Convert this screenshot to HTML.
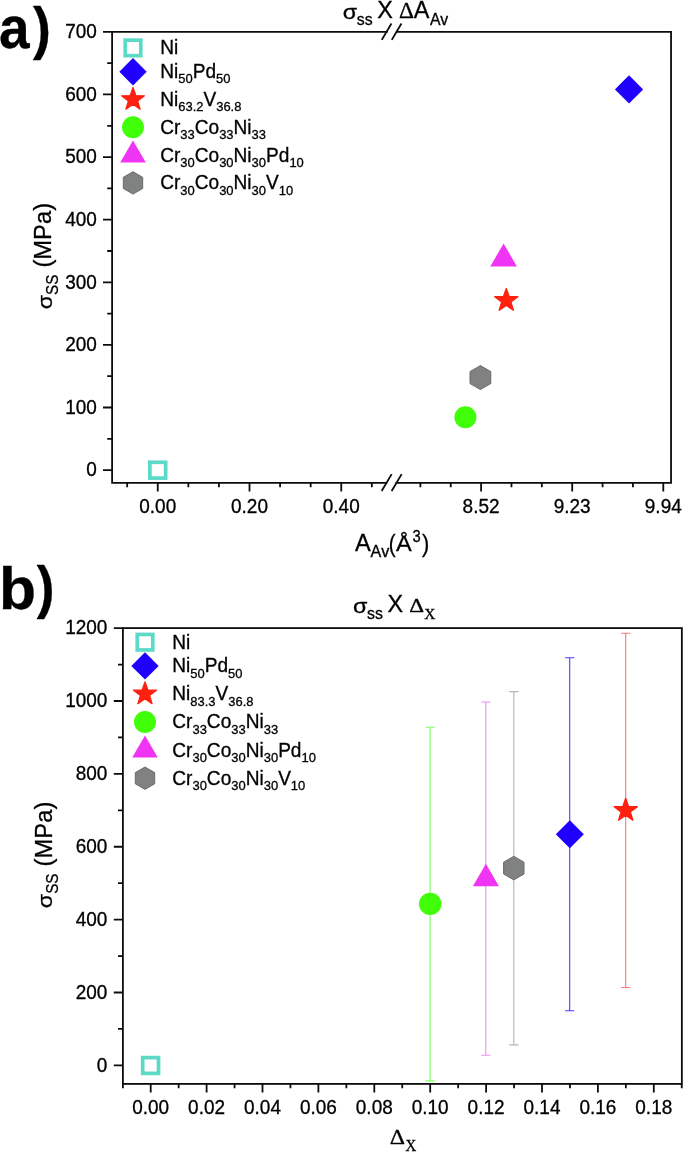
<!DOCTYPE html>
<html><head><meta charset="utf-8"><title>figure</title>
<style>html,body{margin:0;padding:0;background:#fff;}body{width:685px;height:1153px;overflow:hidden;font-family:"Liberation Sans", sans-serif;}svg{display:block;}</style>
</head><body>
<svg width="685" height="1153" viewBox="0 0 685 1153" font-family='"Liberation Sans", sans-serif' fill="#000">
<style>text{stroke:#000;stroke-width:0.3px;}</style>
<rect width="685" height="1153" fill="#fff"/>
<defs><filter id="soft" x="0" y="0" width="100%" height="100%" filterUnits="userSpaceOnUse" color-interpolation-filters="sRGB"><feGaussianBlur stdDeviation="0.4"/></filter></defs>
<g filter="url(#soft)">
<rect width="685" height="1153" fill="#fff"/>
<path d="M386.4,482.8 H112.1 V31.87 H386.8 M396.8,31.87 H671.05 V482.8 H396.4" stroke="#0c0c0c" stroke-width="1.8" fill="none" stroke-linejoin="miter" stroke-linecap="square"/>
<line x1="381.65" y1="491" x2="391.65" y2="474.1" stroke="#0c0c0c" stroke-width="1.8"/>
<line x1="391.65" y1="491" x2="401.65" y2="474.1" stroke="#0c0c0c" stroke-width="1.8"/>
<line x1="381.77" y1="39.87" x2="391.47" y2="23.47" stroke="#0c0c0c" stroke-width="1.8"/>
<line x1="391.77" y1="39.87" x2="401.47" y2="23.47" stroke="#0c0c0c" stroke-width="1.8"/>
<path d="M112.1,470.1 h-9.1 M112.1,407.5 h-9.1 M112.1,344.89 h-9.1 M112.1,282.29 h-9.1 M112.1,219.68 h-9.1 M112.1,157.08 h-9.1 M112.1,94.47 h-9.1 M112.1,31.87 h-9.1 M112.1,438.8 h-4.9 M112.1,376.19 h-4.9 M112.1,313.59 h-4.9 M112.1,250.99 h-4.9 M112.1,188.38 h-4.9 M112.1,125.78 h-4.9 M112.1,63.17 h-4.9 " stroke="#0c0c0c" stroke-width="1.8" fill="none"/>
<text transform="translate(96.9,476.4) scale(1,1.1)" font-size="19" text-anchor="end" >0</text>
<text transform="translate(96.9,413.8) scale(1,1.1)" font-size="19" text-anchor="end" >100</text>
<text transform="translate(96.9,351.19) scale(1,1.1)" font-size="19" text-anchor="end" >200</text>
<text transform="translate(96.9,288.59) scale(1,1.1)" font-size="19" text-anchor="end" >300</text>
<text transform="translate(96.9,225.98) scale(1,1.1)" font-size="19" text-anchor="end" >400</text>
<text transform="translate(96.9,163.38) scale(1,1.1)" font-size="19" text-anchor="end" >500</text>
<text transform="translate(96.9,100.77) scale(1,1.1)" font-size="19" text-anchor="end" >600</text>
<text transform="translate(96.9,38.17) scale(1,1.1)" font-size="19" text-anchor="end" >700</text>
<path d="M157.75,482.8 v8.7 M249.5,482.8 v8.7 M341.25,482.8 v8.7 M127.17,482.8 v4.4 M188.33,482.8 v4.4 M218.92,482.8 v4.4 M280.08,482.8 v4.4 M310.67,482.8 v4.4 M371.83,482.8 v4.4 M481.1,482.8 v8.7 M572.2,482.8 v8.7 M663.3,482.8 v8.7 M420.37,482.8 v4.4 M450.73,482.8 v4.4 M511.47,482.8 v4.4 M541.83,482.8 v4.4 M602.57,482.8 v4.4 M632.93,482.8 v4.4 " stroke="#0c0c0c" stroke-width="1.8" fill="none"/>
<text transform="translate(157.75,512.8) scale(1,1.1)" font-size="19" text-anchor="middle" >0.00</text>
<text transform="translate(249.5,512.8) scale(1,1.1)" font-size="19" text-anchor="middle" >0.20</text>
<text transform="translate(341.25,512.8) scale(1,1.1)" font-size="19" text-anchor="middle" >0.40</text>
<text transform="translate(481.1,512.8) scale(1,1.1)" font-size="19" text-anchor="middle" >8.52</text>
<text transform="translate(572.2,512.8) scale(1,1.1)" font-size="19" text-anchor="middle" >9.23</text>
<text transform="translate(663.3,512.8) scale(1,1.1)" font-size="19" text-anchor="middle" >9.94</text>
<text transform="translate(342.73,19.2) scale(1.1090,1)" font-size="21" >σ</text>
<text transform="translate(356.8,24.5) scale(0.9922,1)" font-size="16" stroke="#000" stroke-width="0.35">ss</text>
<text transform="translate(377.19,18.3) scale(0.9748,1)" font-size="24" >X</text>
<text transform="translate(398.95,18.3) scale(1.0198,1)" font-size="22.8" font-family='"Liberation Serif", serif' >Δ</text>
<text transform="translate(413.68,18.3) scale(0.9778,1)" font-size="24" >A</text>
<text transform="translate(429.92,24.5) scale(0.9908,1)" font-size="16" stroke="#000" stroke-width="0.3">Av</text>
<text transform="translate(354.88,551.1) scale(0.9841,1)" font-size="24" >A</text>
<text transform="translate(370.62,557.4) scale(1.0128,1)" font-size="16" stroke="#000" stroke-width="0.3">Av</text>
<text transform="translate(388.73,551.5) scale(0.8480,1)" font-size="24" >(</text>
<text transform="translate(396.08,550.8) scale(1.0451,1)" font-size="22.6" >Å</text>
<text transform="translate(412.56,541.7) scale(0.9231,1)" font-size="16" >3</text>
<text transform="translate(421.97,551.5) scale(0.9120,1)" font-size="24" >)</text>
<g transform="translate(51.2,308.4) rotate(-90)">
<text transform="translate(-0.96,0.4) scale(1.1005,1)" font-size="21" >σ</text>
<text transform="translate(13.39,6.3) scale(0.9241,1)" font-size="16.5" >SS</text>
<text transform="translate(40.81,0) scale(0.9908,1)" font-size="24" >(MPa)</text>
</g>
<text transform="translate(-0.92,47.9) scale(0.9161,1)" font-size="60" font-weight="bold" >a</text>
<text transform="translate(33.02,47.9) scale(0.9244,1)" font-size="58" font-weight="bold" >)</text>
<rect x="125.25" y="40.15" width="15.5" height="15.5" fill="#fff" stroke="#5cdac7" stroke-width="3.7"/>
<text transform="translate(160.2,54.3) scale(1.005,1.04)" font-size="19" text-anchor="start" ><tspan dy="0">Ni</tspan></text>
<polygon points="133,58 146.7,71.7 133,85.4 119.3,71.7" fill="#1f00ff"/>
<text transform="translate(160.2,78.1) scale(1.005,1.04)" font-size="19" text-anchor="start" ><tspan dy="0">Ni</tspan><tspan font-size="12.9" dy="5">50</tspan><tspan dy="-5">Pd</tspan><tspan font-size="12.9" dy="5">50</tspan></text>
<polygon points="133,87.45 135.83,95.6 144.46,95.78 137.58,100.99 140.08,109.25 133,104.32 125.92,109.25 128.42,100.99 121.54,95.78 130.17,95.6" fill="#ff2010" stroke="#ff2010" stroke-width="1.3" stroke-linejoin="round"/>
<text transform="translate(160.2,105.9) scale(1.005,1.04)" font-size="19" text-anchor="start" ><tspan dy="0">Ni</tspan><tspan font-size="12.9" dy="5">63.2</tspan><tspan dy="-5">V</tspan><tspan font-size="12.9" dy="5">36.8</tspan></text>
<circle cx="133" cy="127.3" r="11" fill="#40ff08"/>
<text transform="translate(160.2,133.7) scale(1.005,1.04)" font-size="19" text-anchor="start" ><tspan dy="0">Cr</tspan><tspan font-size="12.9" dy="5">33</tspan><tspan dy="-5">Co</tspan><tspan font-size="12.9" dy="5">33</tspan><tspan dy="-5">Ni</tspan><tspan font-size="12.9" dy="5">33</tspan></text>
<polygon points="133,140.53 145.8,162.53 120.2,162.53" fill="#f034f4"/>
<text transform="translate(160.2,161.6) scale(1.005,1.04)" font-size="19" text-anchor="start" ><tspan dy="0">Cr</tspan><tspan font-size="12.9" dy="5">30</tspan><tspan dy="-5">Co</tspan><tspan font-size="12.9" dy="5">30</tspan><tspan dy="-5">Ni</tspan><tspan font-size="12.9" dy="5">30</tspan><tspan dy="-5">Pd</tspan><tspan font-size="12.9" dy="5">10</tspan></text>
<polygon points="133,171.7 142.7,177.3 142.7,188.5 133,194.1 123.3,188.5 123.3,177.3" fill="#808181" stroke="#6c6c6c" stroke-width="1"/>
<text transform="translate(160.2,189.3) scale(1.005,1.04)" font-size="19" text-anchor="start" ><tspan dy="0">Cr</tspan><tspan font-size="12.9" dy="5">30</tspan><tspan dy="-5">Co</tspan><tspan font-size="12.9" dy="5">30</tspan><tspan dy="-5">Ni</tspan><tspan font-size="12.9" dy="5">30</tspan><tspan dy="-5">V</tspan><tspan font-size="12.9" dy="5">10</tspan></text>
<rect x="149.85" y="462.3" width="15.8" height="15.8" fill="#fff" stroke="#5cdac7" stroke-width="3.7"/>
<circle cx="465.4" cy="417.2" r="11.05" fill="#40ff08"/>
<polygon points="480.4,365.6 490.79,371.6 490.79,383.6 480.4,389.6 470.01,383.6 470.01,371.6" fill="#808181" stroke="#6c6c6c" stroke-width="1"/>
<polygon points="506.3,288.35 509.16,296.57 517.86,296.75 510.92,302 513.44,310.33 506.3,305.36 499.16,310.33 501.68,302 494.74,296.75 503.44,296.57" fill="#ff2010" stroke="#ff2010" stroke-width="1.3" stroke-linejoin="round"/>
<polygon points="503.6,243.5 516.9,266.6 490.3,266.6" fill="#f034f4"/>
<polygon points="629.05,75.3 643.15,89.4 629.05,103.5 614.95,89.4" fill="#1f00ff"/>
<rect x="122.9" y="628.1" width="558.95" height="455.8" stroke="#0c0c0c" stroke-width="1.8" fill="none"/>
<path d="M122.9,1065.4 h-9.1 M122.9,992.52 h-9.1 M122.9,919.63 h-9.1 M122.9,846.75 h-9.1 M122.9,773.87 h-9.1 M122.9,700.98 h-9.1 M122.9,628.1 h-9.1 M122.9,1028.96 h-4.9 M122.9,956.08 h-4.9 M122.9,883.19 h-4.9 M122.9,810.31 h-4.9 M122.9,737.43 h-4.9 M122.9,664.54 h-4.9 " stroke="#0c0c0c" stroke-width="1.8" fill="none"/>
<text transform="translate(107.4,1071.7) scale(1,1.1)" font-size="19" text-anchor="end" >0</text>
<text transform="translate(107.4,998.82) scale(1,1.1)" font-size="19" text-anchor="end" >200</text>
<text transform="translate(107.4,925.93) scale(1,1.1)" font-size="19" text-anchor="end" >400</text>
<text transform="translate(107.4,853.05) scale(1,1.1)" font-size="19" text-anchor="end" >600</text>
<text transform="translate(107.4,780.17) scale(1,1.1)" font-size="19" text-anchor="end" >800</text>
<text transform="translate(107.4,707.28) scale(1,1.1)" font-size="19" text-anchor="end" >1000</text>
<text transform="translate(107.4,634.4) scale(1,1.1)" font-size="19" text-anchor="end" >1200</text>
<path d="M150.7,1083.9 v8.7 M206.6,1083.9 v8.7 M262.5,1083.9 v8.7 M318.4,1083.9 v8.7 M374.3,1083.9 v8.7 M430.2,1083.9 v8.7 M486.1,1083.9 v8.7 M542,1083.9 v8.7 M597.9,1083.9 v8.7 M653.8,1083.9 v8.7 M178.65,1083.9 v4.4 M234.55,1083.9 v4.4 M290.45,1083.9 v4.4 M346.35,1083.9 v4.4 M402.25,1083.9 v4.4 M458.15,1083.9 v4.4 M514.05,1083.9 v4.4 M569.95,1083.9 v4.4 M625.85,1083.9 v4.4 M681.75,1083.9 v4.4 M122.9,1083.9 v4.4 " stroke="#0c0c0c" stroke-width="1.8" fill="none"/>
<text transform="translate(150.7,1113.7) scale(1,1.1)" font-size="19" text-anchor="middle" >0.00</text>
<text transform="translate(206.6,1113.7) scale(1,1.1)" font-size="19" text-anchor="middle" >0.02</text>
<text transform="translate(262.5,1113.7) scale(1,1.1)" font-size="19" text-anchor="middle" >0.04</text>
<text transform="translate(318.4,1113.7) scale(1,1.1)" font-size="19" text-anchor="middle" >0.06</text>
<text transform="translate(374.3,1113.7) scale(1,1.1)" font-size="19" text-anchor="middle" >0.08</text>
<text transform="translate(430.2,1113.7) scale(1,1.1)" font-size="19" text-anchor="middle" >0.10</text>
<text transform="translate(486.1,1113.7) scale(1,1.1)" font-size="19" text-anchor="middle" >0.12</text>
<text transform="translate(542,1113.7) scale(1,1.1)" font-size="19" text-anchor="middle" >0.14</text>
<text transform="translate(597.9,1113.7) scale(1,1.1)" font-size="19" text-anchor="middle" >0.16</text>
<text transform="translate(653.8,1113.7) scale(1,1.1)" font-size="19" text-anchor="middle" >0.18</text>
<text transform="translate(353.03,613.2) scale(1.1090,1)" font-size="21" >σ</text>
<text transform="translate(367.1,618.5) scale(0.9922,1)" font-size="16" stroke="#000" stroke-width="0.35">ss</text>
<text transform="translate(387.49,612.3) scale(0.9748,1)" font-size="24" >X</text>
<text transform="translate(409.26,612.3) scale(1.2679,1)" font-size="18.2" font-family='"Liberation Serif", serif' >Δ</text>
<text transform="translate(424.28,618.8) scale(0.9929,1)" font-size="15.5" font-family='"Liberation Serif", serif' >X</text>
<text transform="translate(389.83,1144.2) scale(1.0809,1)" font-size="22" font-family='"Liberation Serif", serif' >Δ</text>
<text transform="translate(405.39,1150.5) scale(0.9060,1)" font-size="16.5" font-family='"Liberation Serif", serif' >X</text>
<g transform="translate(51.6,907.2) rotate(-90)">
<text transform="translate(-0.96,0.4) scale(1.1005,1)" font-size="21" >σ</text>
<text transform="translate(13.39,6.3) scale(0.9241,1)" font-size="16.5" >SS</text>
<text transform="translate(40.81,0) scale(0.9908,1)" font-size="24" >(MPa)</text>
</g>
<text transform="translate(-1.1,609) scale(1.0100,1)" font-size="60" font-weight="bold" >b</text>
<text transform="translate(36.72,607.3) scale(0.9182,1)" font-size="58" font-weight="bold" >)</text>
<rect x="137.25" y="634.45" width="15.5" height="15.5" fill="#fff" stroke="#5cdac7" stroke-width="3.7"/>
<text transform="translate(172.3,648.6) scale(1.005,1.04)" font-size="19" text-anchor="start" ><tspan dy="0">Ni</tspan></text>
<polygon points="145,652.2 158.7,665.9 145,679.6 131.3,665.9" fill="#1f00ff"/>
<text transform="translate(172.3,672.3) scale(1.005,1.04)" font-size="19" text-anchor="start" ><tspan dy="0">Ni</tspan><tspan font-size="12.9" dy="5">50</tspan><tspan dy="-5">Pd</tspan><tspan font-size="12.9" dy="5">50</tspan></text>
<polygon points="145,681.85 147.83,690 156.46,690.18 149.58,695.39 152.08,703.65 145,698.72 137.92,703.65 140.42,695.39 133.54,690.18 142.17,690" fill="#ff2010" stroke="#ff2010" stroke-width="1.3" stroke-linejoin="round"/>
<text transform="translate(172.3,700.3) scale(1.005,1.04)" font-size="19" text-anchor="start" ><tspan dy="0">Ni</tspan><tspan font-size="12.9" dy="5">83.3</tspan><tspan dy="-5">V</tspan><tspan font-size="12.9" dy="5">36.8</tspan></text>
<circle cx="145" cy="722" r="11" fill="#40ff08"/>
<text transform="translate(172.3,728.4) scale(1.005,1.04)" font-size="19" text-anchor="start" ><tspan dy="0">Cr</tspan><tspan font-size="12.9" dy="5">33</tspan><tspan dy="-5">Co</tspan><tspan font-size="12.9" dy="5">33</tspan><tspan dy="-5">Ni</tspan><tspan font-size="12.9" dy="5">33</tspan></text>
<polygon points="145,735.43 157.8,757.43 132.2,757.43" fill="#f034f4"/>
<text transform="translate(172.3,756.5) scale(1.005,1.04)" font-size="19" text-anchor="start" ><tspan dy="0">Cr</tspan><tspan font-size="12.9" dy="5">30</tspan><tspan dy="-5">Co</tspan><tspan font-size="12.9" dy="5">30</tspan><tspan dy="-5">Ni</tspan><tspan font-size="12.9" dy="5">30</tspan><tspan dy="-5">Pd</tspan><tspan font-size="12.9" dy="5">10</tspan></text>
<polygon points="145,767 154.7,772.6 154.7,783.8 145,789.4 135.3,783.8 135.3,772.6" fill="#808181" stroke="#6c6c6c" stroke-width="1"/>
<text transform="translate(172.3,784.6) scale(1.005,1.04)" font-size="19" text-anchor="start" ><tspan dy="0">Cr</tspan><tspan font-size="12.9" dy="5">30</tspan><tspan dy="-5">Co</tspan><tspan font-size="12.9" dy="5">30</tspan><tspan dy="-5">Ni</tspan><tspan font-size="12.9" dy="5">30</tspan><tspan dy="-5">V</tspan><tspan font-size="12.9" dy="5">10</tspan></text>
<path d="M430.1,727.3 V1080.9 M425.5,727.3 h9.2 M425.5,1080.9 h9.2" stroke="#7dff5e" stroke-width="1.1" fill="none"/>
<path d="M485.8,702 V1055.3 M481.2,702 h9.2 M481.2,1055.3 h9.2" stroke="#f08df2" stroke-width="1.1" fill="none"/>
<path d="M513.8,691.6 V1044.9 M509.2,691.6 h9.2 M509.2,1044.9 h9.2" stroke="#b4b4b4" stroke-width="1.1" fill="none"/>
<path d="M569.7,657.8 V1010.8 M565.1,657.8 h9.2 M565.1,1010.8 h9.2" stroke="#4a3cff" stroke-width="1.1" fill="none"/>
<path d="M625.7,633.3 V987.5 M621.1,633.3 h9.2 M621.1,987.5 h9.2" stroke="#ff7674" stroke-width="1.1" fill="none"/>
<rect x="142.7" y="1057.6" width="15.8" height="15.8" fill="#fff" stroke="#5cdac7" stroke-width="3.7"/>
<circle cx="430.2" cy="903.9" r="11.2" fill="#40ff08"/>
<polygon points="485.9,863.8 498.9,886.3 472.9,886.3" fill="#f034f4"/>
<polygon points="513.8,856.3 524.02,862.2 524.02,874 513.8,879.9 503.58,874 503.58,862.2" fill="#808181" stroke="#6c6c6c" stroke-width="1"/>
<polygon points="569.8,820.3 583.8,834.3 569.8,848.3 555.8,834.3" fill="#1f00ff"/>
<polygon points="625.7,798.25 628.56,806.47 637.26,806.65 630.32,811.9 632.84,820.23 625.7,815.26 618.56,820.23 621.08,811.9 614.14,806.65 622.84,806.47" fill="#ff2010" stroke="#ff2010" stroke-width="1.3" stroke-linejoin="round"/>
</g>
</svg>
</body></html>
